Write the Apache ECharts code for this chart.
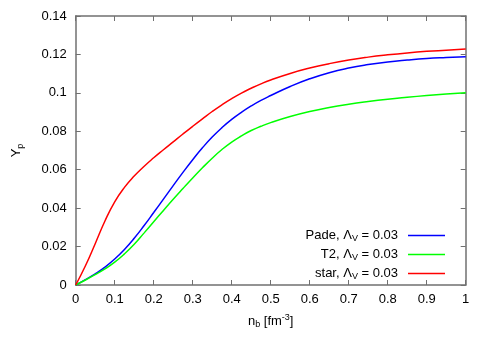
<!DOCTYPE html>
<html><head><meta charset="utf-8">
<script src="https://cdn.jsdelivr.net/npm/echarts@6/dist/echarts.min.js"></script>
<style>html,body{margin:0;padding:0;background:#fff}#c{width:491px;height:343px}</style>
</head><body><div id="c"></div>
<script>
var nb = [0, 0.025, 0.05, 0.075, 0.1, 0.125, 0.15, 0.175, 0.2, 0.225, 0.25, 0.275, 0.3, 0.325, 0.35, 0.375, 0.4, 0.425, 0.45, 0.475, 0.5, 0.55, 0.6, 0.65, 0.7, 0.75, 0.8, 0.85, 0.9, 0.95, 1.0];
var pade = [0, 0.0028, 0.0058, 0.0093, 0.0135, 0.0185, 0.0243, 0.0308, 0.0377, 0.0447, 0.0517, 0.0586, 0.0652, 0.0714, 0.0770, 0.0819, 0.0862, 0.0899, 0.0932, 0.0961, 0.0986, 0.1033, 0.1073, 0.1105, 0.1129, 0.1147, 0.1161, 0.1171, 0.1179, 0.1184, 0.1188];
var t2 = [0, 0.0026, 0.0054, 0.0084, 0.0119, 0.0162, 0.0212, 0.0270, 0.0329, 0.0388, 0.0446, 0.0502, 0.0557, 0.0610, 0.0660, 0.0705, 0.0744, 0.0776, 0.0804, 0.0826, 0.0845, 0.0877, 0.0903, 0.0924, 0.0941, 0.0955, 0.0967, 0.0977, 0.0986, 0.0994, 0.1001];
var star = [0, 0.0100, 0.0215, 0.0333, 0.0433, 0.0508, 0.0567, 0.0617, 0.0662, 0.0704, 0.0745, 0.0786, 0.0826, 0.0865, 0.0903, 0.0938, 0.0970, 0.0999, 0.1024, 0.1047, 0.1067, 0.1101, 0.1129, 0.1152, 0.1171, 0.1186, 0.1198, 0.1208, 0.1216, 0.1222, 0.1228];
var seriesNames = ['Pade', 'T2', 'star'];
var lambdaLabel = ', \u039B{sub|V} = 0.03';

function pairs(ys){ return nb.map(function(x,i){ return [x, ys[i]]; }); }

var font = 'Liberation Sans, Arial, sans-serif';
var fs = 13;
var axisColor = '#707070';
var chart = echarts.init(document.getElementById('c'), null, {renderer:'canvas'});
function mkSeries(name, ys, color){
  return {name:name, type:'line', data:pairs(ys), smooth:0.5, showSymbol:false, symbol:'none',
    lineStyle:{color:color, width:1.5}, itemStyle:{color:color}, animation:false};
}
function axisLine(){ return {show:true, onZero:false, lineStyle:{color:axisColor, width:1.5}}; }
function tick(){ return {inside:true, length:5, lineStyle:{color:axisColor}}; }
chart.setOption({
  animation:false,
  grid:{left:75.7, right:25.3, top:16, bottom:58, containLabel:false},
  legend:{
    orient:'vertical', right:41, top:224, align:'right',
    itemWidth:37, itemHeight:1.5, itemGap:5, icon:'rect',
    data:seriesNames,
    formatter:function(n){ return n + lambdaLabel; },
    textStyle:{fontFamily:font, fontSize:fs, color:'#000', padding:[0,5,0,0],
      rich:{sub:{fontSize:9, fontFamily:font, color:'#000', padding:[6,0,0,0]}}}
  },
  xAxis:[{
    type:'value', min:0, max:1, interval:0.1,
    axisLine:axisLine(), axisTick:tick(),
    splitLine:{show:false},
    axisLabel:{fontFamily:font, fontSize:fs, color:'#000', margin:8},
    name:'n{sub|b} [fm{sup|-3}]', nameLocation:'middle', nameGap:28,
    nameTextStyle:{fontFamily:font, fontSize:fs, color:'#000',
      rich:{sub:{fontSize:9, padding:[7,0,0,0], fontFamily:font, color:'#000'},
            sup:{fontSize:9, padding:[0,0,7,0], fontFamily:font, color:'#000'}}}
  },{
    type:'value', min:0, max:1, interval:0.1, position:'top',
    axisLine:axisLine(), axisTick:tick(),
    axisLabel:{show:false}, splitLine:{show:false}
  }],
  yAxis:[{
    type:'value', min:0, max:0.14, interval:0.02,
    axisLine:axisLine(), axisTick:tick(),
    splitLine:{show:false},
    axisLabel:{fontFamily:font, fontSize:fs, color:'#000', margin:9},
    name:'Y{sub|p}', nameLocation:'middle', nameGap:51, nameRotate:90,
    nameTextStyle:{fontFamily:font, fontSize:fs, color:'#000',
      rich:{sub:{fontSize:9, padding:[7,0,0,0], fontFamily:font, color:'#000'}}}
  },{
    type:'value', min:0, max:0.14, interval:0.02, position:'right',
    axisLine:axisLine(), axisTick:tick(),
    axisLabel:{show:false}, splitLine:{show:false}
  }],
  series:[
    mkSeries(seriesNames[0], pade, '#0000ff'),
    mkSeries(seriesNames[1], t2, '#00ff00'),
    mkSeries(seriesNames[2], star, '#ff0000')
  ]
});
</script></body></html>
